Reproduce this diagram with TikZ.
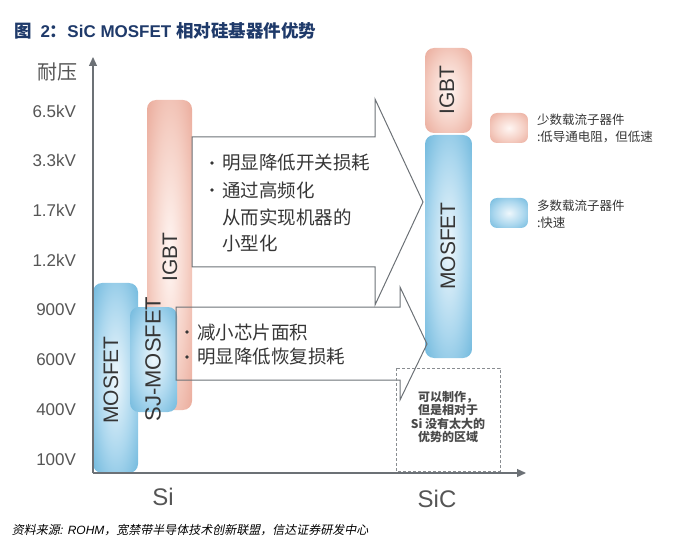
\documentclass[tikz,border=0pt]{standalone}
\usepackage{fontspec}
\setmainfont{Liberation Sans}
\newfontfamily\cjk{Noto Sans CJK SC}
\newfontfamily\cjkit[FakeSlant=0.2]{Noto Sans CJK SC}
\usetikzlibrary{arrows.meta}
\definecolor{pinkD}{HTML}{E69C8A}
\definecolor{pinkL}{HTML}{F5CFC4}
\definecolor{pinkC}{HTML}{FFF6F3}
\definecolor{blueD}{HTML}{58ACD6}
\definecolor{blueL}{HTML}{ABD7EE}
\definecolor{blueC}{HTML}{EEF7FC}
\definecolor{axisgray}{HTML}{6C7176}
\definecolor{labgray}{HTML}{555555}
\definecolor{txtdark}{HTML}{363636}
\definecolor{boxtxt}{HTML}{4A4A4A}
\definecolor{navy}{HTML}{1F3A6A}
\pgfdeclareradialshading{pinkglow}{\pgfpoint{0bp}{0bp}}{color(0bp)=(pinkC); color(20bp)=(pinkL); color(42bp)=(pinkD); color(50bp)=(pinkD)}
\pgfdeclareradialshading{blueglow}{\pgfpoint{0bp}{0bp}}{color(0bp)=(blueC); color(20bp)=(blueL); color(42bp)=(blueD); color(50bp)=(blueD)}
\tikzset{
  every node/.style={inner sep=0pt, outer sep=0pt},
  bar/.style={rounded corners=9pt},
  pinkbar/.style={bar, shading=pinkglow},
  bluebar/.style={bar, shading=blueglow},
  barlabel/.style={rotate=90, font=\fontsize{21}{21}\selectfont, text=txtdark},
  ylab/.style={anchor=east, font=\fontsize{17}{17}\selectfont, text=labgray},
  xlab/.style={font=\fontsize{24}{24}\selectfont, text=labgray},
  bullettext/.style={anchor=west, font=\cjk\fontsize{18.5}{18.5}\selectfont, text=txtdark},
  bulletdot/.style={circle, fill=txtdark, minimum size=3.6pt},
  legtext/.style={anchor=west, font=\cjk\fontsize{12.5}{12.5}\selectfont, text=txtdark},
  bigarrow/.style={draw=axisgray, line width=1pt, line join=miter},
  axisline/.style={draw=axisgray, line width=1.3pt, -{Triangle[length=9pt,width=8pt]}},
  dashbox/.style={draw=axisgray!80, line width=0.8pt, dash pattern=on 3pt off 2pt},
}
\begin{document}
\begin{tikzpicture}[x=1pt, y=-1pt]
\useasboundingbox (0,0) rectangle (685,545);
% title
\node[anchor=west, text=navy] (title) at (14,31)
  {{\cjk\bfseries\fontsize{17.5}{17.5}\selectfont 图\hspace{9pt}}{\bfseries\fontsize{17}{17}\selectfont 2}{\cjk\bfseries\fontsize{17.5}{17.5}\selectfont ：}{\bfseries\fontsize{17}{17}\selectfont SiC MOSFET }{\cjk\bfseries\fontsize{17.5}{17.5}\selectfont 相对硅基器件优势}};
% bars
\shade[pinkbar] (147,100) rectangle (192,410);
\shade[bluebar] (93,283) rectangle (138,473);
\shade[bluebar] (130,307) rectangle (177,412);
\shade[pinkbar] (425,48) rectangle (472,133);
\shade[bluebar] (425,135) rectangle (472,358);
\shade[pinkbar, rounded corners=7pt] (490,113) rectangle (528,143);
\shade[bluebar, rounded corners=7pt] (490,198) rectangle (528,228);
% axes
\coordinate (O) at (93,473);
\coordinate (ytop) at (93,57);
\coordinate (xend) at (526,473);
\draw[axisline] (O) -- (ytop);
\draw[axisline] (O) -- (xend);
% big arrows
\draw[bigarrow] (192,137) -- (375,137) -- (375,99) -- (423,202) -- (375,305) -- (375,267) -- (192,267) -- cycle;
\draw[bigarrow] (176,307) -- (400,307) -- (400,287) -- (427,344) -- (400,400) -- (400,380) -- (176,380) -- cycle;
% dashed box
\draw[dashbox] (396,368) rectangle (500,471);
% bar labels
\node[barlabel] (lmos) at (111,380) {MOSFET};
\node[barlabel, font=\fontsize{22}{22}\selectfont] (lsj) at (153,359) {SJ-MOSFET};
\node[barlabel] (ligbt) at (170,257) {IGBT};
\node[barlabel] (ligbt2) at (447,90) {IGBT};
\node[barlabel] (lmos2) at (448,246) {MOSFET};
% y labels
\node[ylab, font=\cjk\fontsize{20}{20}\selectfont] (ytitle) at (77,72) {耐压};
\node[ylab] (y1) at (76,111) {6.5kV};
\node[ylab] (y2) at (76,160) {3.3kV};
\node[ylab] (y3) at (76,210) {1.7kV};
\node[ylab] (y4) at (76,260) {1.2kV};
\node[ylab] (y5) at (76,310) {900V};
\node[ylab] (y6) at (76,360) {600V};
\node[ylab] (y7) at (76,410) {400V};
\node[ylab] (y8) at (76,460) {100V};
% x labels
\node[xlab] (xsi) at (163,497) {Si};
\node[xlab] (xsic) at (437,499) {SiC};
% arrow texts
\node[bulletdot] (b1) at (212,163) {};
\node[bulletdot] (b2) at (212,190) {};
\node[bulletdot] (b3) at (187,332) {};
\node[bulletdot] (b4) at (187,357) {};
\node[bullettext] (u1) at (222,163) {明显降低开关损耗};
\node[bullettext] (u2) at (222,190) {通过高频化};
\node[bullettext] (u3) at (222,217) {从而实现机器的};
\node[bullettext] (u4) at (222,243) {小型化};
\node[bullettext] (d1) at (197,332) {减小芯片面积};
\node[bullettext] (d2) at (197,357) {明显降低恢复损耗};
% dashed box text
\node[align=center, text=boxtxt, font=\cjk\bfseries\fontsize{12}{13.4}\selectfont] (dtext) at (448,417)
  {可以制作，\\但是相对于\\Si 没有太大的\\优势的区域};
% legend
\node[legtext] (lg1) at (537,120) {少数载流子器件};
\node[legtext] (lg2) at (537,137) {:低导通电阻，但低速};
\node[legtext] (lg3) at (537,206) {多数载流子器件};
\node[legtext] (lg4) at (537,223) {:快速};
% source
\node[anchor=west, text=black, font=\fontsize{12}{12}\selectfont] (src) at (12,530)
  {{\cjkit 资料来源}{\itshape: ROHM}{\cjkit ，宽禁带半导体技术创新联盟，信达证券研发中心}};
\end{tikzpicture}
\end{document}
